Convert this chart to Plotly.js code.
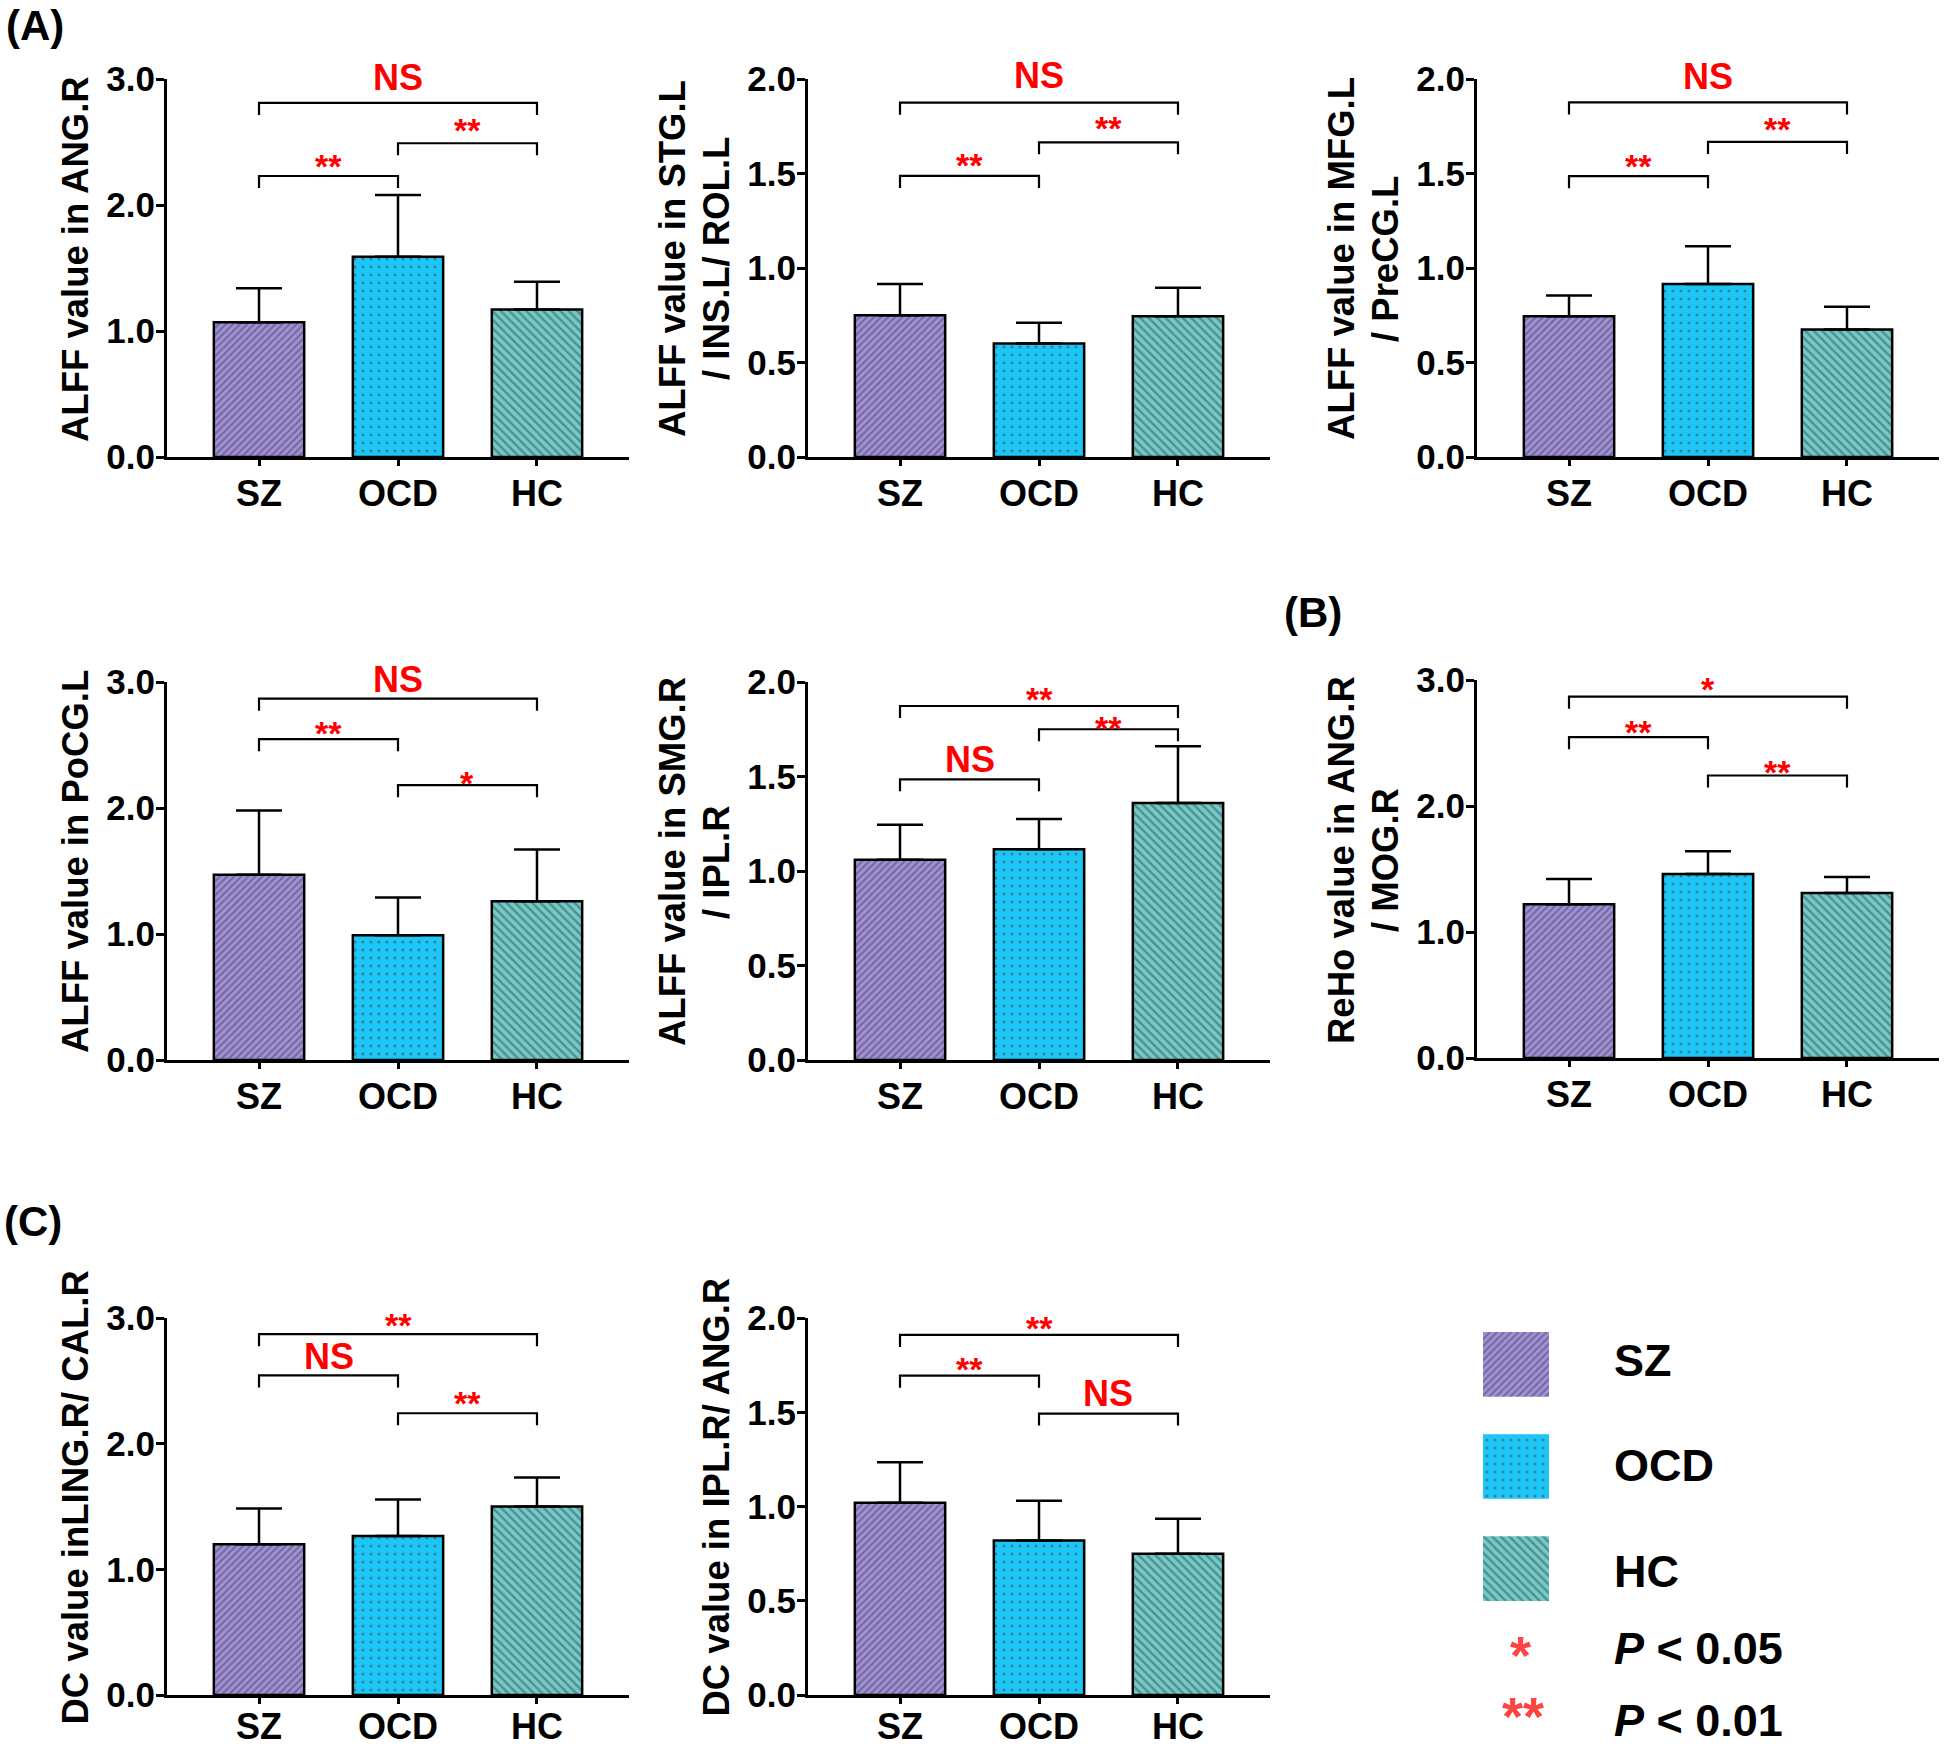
<!DOCTYPE html>
<html>
<head>
<meta charset="utf-8">
<script src="https://cdn.plot.ly/plotly-3.0.1.min.js"></script>
<style>html,body{margin:0;padding:0;background:#fff;overflow:hidden;}#chart{width:1946px;height:1748px;}</style>
</head>
<body>
<div id="chart"></div>
<script>
// ---------------- DATA ----------------
const categories = ['SZ', 'OCD', 'HC'];

// means and upper SD per panel
const angMean  = [1.07, 1.59, 1.17];  const angSD  = [0.27, 0.49, 0.22];
const stgMean  = [0.75, 0.60, 0.745]; const stgSD  = [0.165, 0.11, 0.15];
const mfgMean  = [0.745, 0.915, 0.675]; const mfgSD = [0.11, 0.20, 0.12];
const pocgMean = [1.47, 0.99, 1.26];  const pocgSD = [0.51, 0.30, 0.41];
const smgMean  = [1.06, 1.115, 1.36]; const smgSD  = [0.185, 0.16, 0.30];
const rehoMean = [1.22, 1.46, 1.31];  const rehoSD = [0.20, 0.18, 0.127];
const lingMean = [1.20, 1.265, 1.50]; const lingSD = [0.285, 0.29, 0.23];
const iplMean  = [1.02, 0.82, 0.75];  const iplSD  = [0.215, 0.21, 0.185];

// comparisons: [SZ-HC, SZ-OCD, OCD-HC]
const comparisons = [['SZ', 'HC'], ['SZ', 'OCD'], ['OCD', 'HC']];

const angSig  = ['NS', '**', '**']; const angBracket  = [2.81, 2.23, 2.49];  const angLabelY  = [3.01, 2.36, 2.64];
const stgSig  = ['NS', '**', '**']; const stgBracket  = [1.875, 1.487, 1.665]; const stgLabelY = [2.02, 1.577, 1.771];
const mfgSig  = ['NS', '**', '**']; const mfgBracket  = [1.876, 1.486, 1.667]; const mfgLabelY = [2.014, 1.572, 1.767];
const pocgSig = ['NS', '**', '*'];  const pocgBracket = [2.868, 2.546, 2.181]; const pocgLabelY = [3.02, 2.64, 2.25];
const smgSig  = ['**', 'NS', '**']; const smgBracket  = [1.873, 1.485, 1.75];  const smgLabelY  = [1.94, 1.59, 1.79];
const rehoSig = ['*', '**', '**'];  const rehoBracket = [2.868, 2.546, 2.242]; const rehoLabelY = [2.974, 2.635, 2.318];
const lingSig = ['**', 'NS', '**']; const lingBracket = [2.871, 2.543, 2.242]; const lingLabelY = [2.99, 2.693, 2.373];
const iplSig  = ['**', '**', 'NS']; const iplBracket  = [1.91, 1.694, 1.493];  const iplLabelY  = [1.98, 1.76, 1.60];

const angTitle  = ['ALFF value in ANG.R'];
const stgTitle  = ['ALFF value in STG.L', '/ INS.L/ ROL.L'];
const mfgTitle  = ['ALFF value in MFG.L', '/ PreCG.L'];
const pocgTitle = ['ALFF value in PoCG.L'];
const smgTitle  = ['ALFF value in SMG.R', '/ IPL.R'];
const rehoTitle = ['ReHo value in ANG.R', '/ MOG.R'];
const lingTitle = ['DC value inLING.R/ CAL.R'];
const iplTitle  = ['DC value in IPL.R/ ANG.R'];

const yMax = [3, 2, 2, 3, 2, 3, 3, 2];
const yStep = [1, 0.5, 0.5, 1, 0.5, 1, 1, 0.5];

const panelLabels = ['(A)', '(B)', '(C)'];
const legendLabels = ['SZ', 'OCD', 'HC'];
const pLabels = ['*', '**'];
const pTexts = ['<i>P</i> &lt; 0.05', '<i>P</i> &lt; 0.01'];

// ---------------- STYLE ----------------
const W = 1946, H = 1748;
const FONT = 'Liberation Sans, Arial, Helvetica, sans-serif';
const groupColors = ['#A18FDC', '#1CC6F6', '#6ECDCA'];
const groupShapes = ['/', '.', '\\'];
const groupSizes = [5, 8, 6];
const groupSolidity = [0.4, 0.12, 0.38];

const panels = [
  {mean: angMean,  sd: angSD,  sig: angSig,  br: angBracket,  ly: angLabelY,  title: angTitle,  box: {left: 167, top: 79,  bottom: 457}, xStandoff: -3},
  {mean: stgMean,  sd: stgSD,  sig: stgSig,  br: stgBracket,  ly: stgLabelY,  title: stgTitle,  box: {left: 808, top: 79,  bottom: 457}, xStandoff: -3},
  {mean: mfgMean,  sd: mfgSD,  sig: mfgSig,  br: mfgBracket,  ly: mfgLabelY,  title: mfgTitle,  box: {left: 1477, top: 79, bottom: 457}, xStandoff: -3},
  {mean: pocgMean, sd: pocgSD, sig: pocgSig, br: pocgBracket, ly: pocgLabelY, title: pocgTitle, box: {left: 167, top: 682, bottom: 1060}, xStandoff: -3},
  {mean: smgMean,  sd: smgSD,  sig: smgSig,  br: smgBracket,  ly: smgLabelY,  title: smgTitle,  box: {left: 808, top: 682, bottom: 1060}, xStandoff: -3},
  {mean: rehoMean, sd: rehoSD, sig: rehoSig, br: rehoBracket, ly: rehoLabelY, title: rehoTitle, box: {left: 1477, top: 680, bottom: 1058}, xStandoff: -3},
  {mean: lingMean, sd: lingSD, sig: lingSig, br: lingBracket, ly: lingLabelY, title: lingTitle, box: {left: 167, top: 1318, bottom: 1695}, xStandoff: -8},
  {mean: iplMean,  sd: iplSD,  sig: iplSig,  br: iplBracket,  ly: iplLabelY,  title: iplTitle,  box: {left: 808, top: 1318, bottom: 1695}, xStandoff: -8}
];
const PLOT_W = 462;
const X_RANGE = [-0.662, 2.662];
const LEG_PX = 12;

const traces = [];
const layout = {
  width: W, height: H,
  margin: {l: 0, r: 0, t: 0, b: 0},
  paper_bgcolor: '#fff', plot_bgcolor: 'rgba(0,0,0,0)',
  showlegend: false,
  font: {family: FONT, color: '#000', weight: 'bold'},
  annotations: []
};

panels.forEach((p, i) => {
  const k = i + 1;
  const id = k === 1 ? '' : String(k);
  const b = p.box;
  const hPx = b.bottom - b.top;
  layout['xaxis' + id] = {
    domain: [b.left / W, (b.left + PLOT_W) / W],
    anchor: 'y' + id,
    type: 'category',
    range: X_RANGE,
    showline: true, linecolor: '#000', linewidth: 3,
    ticks: 'outside', ticklen: 6, tickwidth: 3, tickcolor: '#000',
    showgrid: false, zeroline: false, fixedrange: true,
    ticklabelstandoff: p.xStandoff,
    tickfont: {family: FONT, size: 36, color: '#000', weight: 'bold'}
  };
  layout['yaxis' + id] = {
    domain: [1 - b.bottom / H, 1 - b.top / H],
    anchor: 'x' + id,
    range: [0, yMax[i]],
    tickmode: 'linear', tick0: 0, dtick: yStep[i], tickformat: '.1f',
    showline: true, linecolor: '#000', linewidth: 3,
    ticks: 'outside', ticklen: 8, tickwidth: 3, tickcolor: '#000',
    showgrid: false, zeroline: false, fixedrange: true,
    ticklabelstandoff: -6,
    tickfont: {family: FONT, size: 35, color: '#000', weight: 'bold'}
  };
  traces.push({
    type: 'bar', x: categories, y: p.mean, xaxis: 'x' + id, yaxis: 'y' + id,
    width: 0.65, hoverinfo: 'skip',
    marker: {
      color: groupColors, line: {color: '#000', width: 2.5},
      pattern: {shape: groupShapes, bgcolor: groupColors, fgcolor: '#000', size: groupSizes, solidity: groupSolidity, fillmode: 'overlay'}
    },
    error_y: {type: 'data', symmetric: false, array: p.sd, arrayminus: p.sd.map(() => 0), color: '#000', thickness: 2.5, width: 23}
  });
  const leg = LEG_PX * yMax[i] / hPx;
  const bx = [], by = [];
  comparisons.forEach((c, j) => {
    bx.push(c[0], c[0], c[1], c[1], null);
    by.push(p.br[j] - leg, p.br[j], p.br[j], p.br[j] - leg, null);
    const mid = (categories.indexOf(c[0]) + categories.indexOf(c[1])) / 2;
    const isNS = p.sig[j] === 'NS';
    layout.annotations.push({
      xref: 'x' + id, yref: 'y' + id + ' domain', x: mid, y: p.ly[j] / yMax[i],
      text: p.sig[j], showarrow: false, xanchor: 'center', yanchor: 'middle',
      yshift: isNS ? 0 : -6,
      font: {family: FONT, size: isNS ? 36 : 34, color: '#FF0000', weight: 'bold'}
    });
  });
  traces.push({
    type: 'scatter', mode: 'lines', x: bx, y: by, xaxis: 'x' + id, yaxis: 'y' + id,
    line: {color: '#000', width: 2.2}, connectgaps: false, hoverinfo: 'skip', cliponaxis: false
  });
  // axis titles
  const n = p.title.length;
  const cy = (b.top + b.bottom) / 2 - 9;
  p.title.forEach((t, j) => {
    const cx = b.left - 92 - 44 * (n - 1 - j);
    layout.annotations.push({
      xref: 'paper', yref: 'paper', x: cx / W, y: 1 - cy / H,
      text: t, textangle: -90, showarrow: false, xanchor: 'center', yanchor: 'middle',
      font: {family: FONT, size: 36.5, color: '#000', weight: 'bold'}
    });
  });
});

// panel labels
const panelLabelPos = [{x: 4, y: 25.5, a: 'left'}, {x: 1344, y: 612, a: 'right'}, {x: 2, y: 1221, a: 'left'}];
panelLabels.forEach((t, i) => {
  layout.annotations.push({
    xref: 'paper', yref: 'paper', x: panelLabelPos[i].x / W, y: 1 - panelLabelPos[i].y / H,
    text: t, showarrow: false, xanchor: panelLabelPos[i].a, yanchor: 'middle',
    font: {family: FONT, size: 42, color: '#000', weight: 'bold'}
  });
});

// legend swatches (separate subplot)
layout.xaxis9 = {domain: [1483 / W, 1549 / W], anchor: 'y9', range: [0, 1], visible: false, fixedrange: true};
layout.yaxis9 = {domain: [1 - 1601 / H, 1 - 1332 / H], anchor: 'x9', type: 'category', range: [2.317, -0.317], visible: false, fixedrange: true};
traces.push({
  type: 'bar', orientation: 'h', y: legendLabels, x: legendLabels.map(() => 1), xaxis: 'x9', yaxis: 'y9',
  width: 0.634, hoverinfo: 'skip',
  marker: {color: groupColors, line: {width: 0},
    pattern: {shape: groupShapes, bgcolor: groupColors, fgcolor: '#000', size: groupSizes, solidity: groupSolidity, fillmode: 'overlay'}}
});
const legendTextY = [1360, 1465, 1571];
legendLabels.forEach((t, i) => {
  layout.annotations.push({
    xref: 'paper', yref: 'paper', x: 1612 / W, y: 1 - legendTextY[i] / H,
    text: t, showarrow: false, xanchor: 'left', yanchor: 'middle',
    font: {family: FONT, size: 45, color: '#000', weight: 'bold'}
  });
});
const pStarPos = [{x: 1520, y: 1655, s: 54}, {x: 1523, y: 1716, s: 54}];
const pTextY = [1648, 1720];
pLabels.forEach((t, i) => {
  layout.annotations.push({
    xref: 'paper', yref: 'paper', x: pStarPos[i].x / W, y: 1 - pStarPos[i].y / H,
    text: t, showarrow: false, xanchor: 'center', yanchor: 'middle',
    font: {family: FONT, size: pStarPos[i].s, color: '#FF4444', weight: 'bold'}
  });
  layout.annotations.push({
    xref: 'paper', yref: 'paper', x: 1612 / W, y: 1 - pTextY[i] / H,
    text: pTexts[i], showarrow: false, xanchor: 'left', yanchor: 'middle',
    font: {family: FONT, size: 45, color: '#000', weight: 'bold'}
  });
});

Plotly.newPlot('chart', traces, layout, {staticPlot: true, displayModeBar: false});
</script>
</body>
</html>
